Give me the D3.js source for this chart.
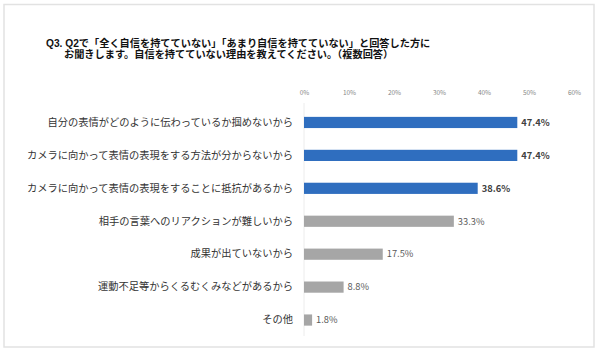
<!DOCTYPE html>
<html><head><meta charset="utf-8">
<script src="https://cdn.jsdelivr.net/npm/d3@7"></script>
<style>body{margin:0;background:#fff;}svg{display:block;}</style>
</head><body>
<svg id="chart" width="600" height="354"></svg>
<script>
const titleLines = ["Q3. Q2で「全く自信を持てていない」「あまり自信を持てていない」と回答した方に", "お聞きします。自信を持てていない理由を教えてください。（複数回答）"];
const categories = [
  "自分の表情がどのように伝わっているか掴めないから",
  "カメラに向かって表情の表現をする方法が分からないから",
  "カメラに向かって表情の表現をすることに抵抗があるから",
  "相手の言葉へのリアクションが難しいから",
  "成果が出ていないから",
  "運動不足等からくるむくみなどがあるから",
  "その他"
];
const values = [47.4, 47.4, 38.6, 33.3, 17.5, 8.8, 1.8];
const highlighted = [true, true, true, false, false, false, false];
const tickValues = [0, 10, 20, 30, 40, 50, 60];

const font = "'Noto Sans CJK JP','Noto Sans',sans-serif";
const titleFont = "'Liberation Sans','Noto Sans CJK JP',sans-serif";
const svg = d3.select("#chart");

svg.append("rect").attr("x", 4).attr("y", 4.5).attr("width", 590).attr("height", 342.5)
  .attr("fill", "#fff").attr("stroke", "#e2e2e2").attr("stroke-width", 1.5);

svg.selectAll("text.title").data(titleLines).join("text").attr("class", "title")
  .attr("x", (d, i) => i === 0 ? 46 : 64).attr("y", (d, i) => 46.5 + i * 11.2)
  .attr("font-family", titleFont).attr("font-size", 10.2).attr("font-weight", "bold")
  .attr("fill", "#111").text(d => d);

const x = d3.scaleLinear().domain([0, 60]).range([304, 574]);
const y = d3.scaleBand().domain(categories).range([106, 336.5]).paddingInner(0.66).paddingOuter(0.33);

const xAxis = d3.axisTop(x).tickValues(tickValues).tickSize(0).tickFormat(d => d + "%");
const gx = svg.append("g").attr("transform", "translate(0,98)").call(xAxis);
gx.select(".domain").remove();
gx.selectAll("text").attr("font-family", font).attr("font-size", 6.5).attr("fill", "#888");

svg.append("line").attr("x1", x(0)).attr("x2", x(0)).attr("y1", 103).attr("y2", 336)
  .attr("stroke", "#ececec").attr("stroke-width", 1);

const yAxis = d3.axisLeft(y).tickSize(0).tickPadding(0);
const gy = svg.append("g").attr("transform", "translate(293,0)").call(yAxis);
gy.select(".domain").remove();
gy.selectAll("text").attr("font-family", font).attr("font-size", 10.25).attr("fill", "#333");

const data = categories.map((c, i) => ({c, v: values[i], h: highlighted[i]}));
svg.selectAll("rect.bar").data(data).join("rect").attr("class", "bar")
  .attr("x", x(0)).attr("y", d => y(d.c)).attr("width", d => x(d.v) - x(0)).attr("height", y.bandwidth())
  .attr("fill", d => d.h ? "#2f6ebf" : "#a6a6a6");

svg.selectAll("text.val").data(data).join("text").attr("class", "val")
  .attr("x", d => x(d.v) + 4).attr("y", d => y(d.c) + y.bandwidth() / 2).attr("dy", "0.35em")
  .attr("font-family", font).attr("font-size", 9.3)
  .attr("font-weight", d => d.h ? "bold" : "normal")
  .attr("fill", d => d.h ? "#404040" : "#595959")
  .text(d => d.v.toFixed(1) + "%");
</script>
</body></html>
